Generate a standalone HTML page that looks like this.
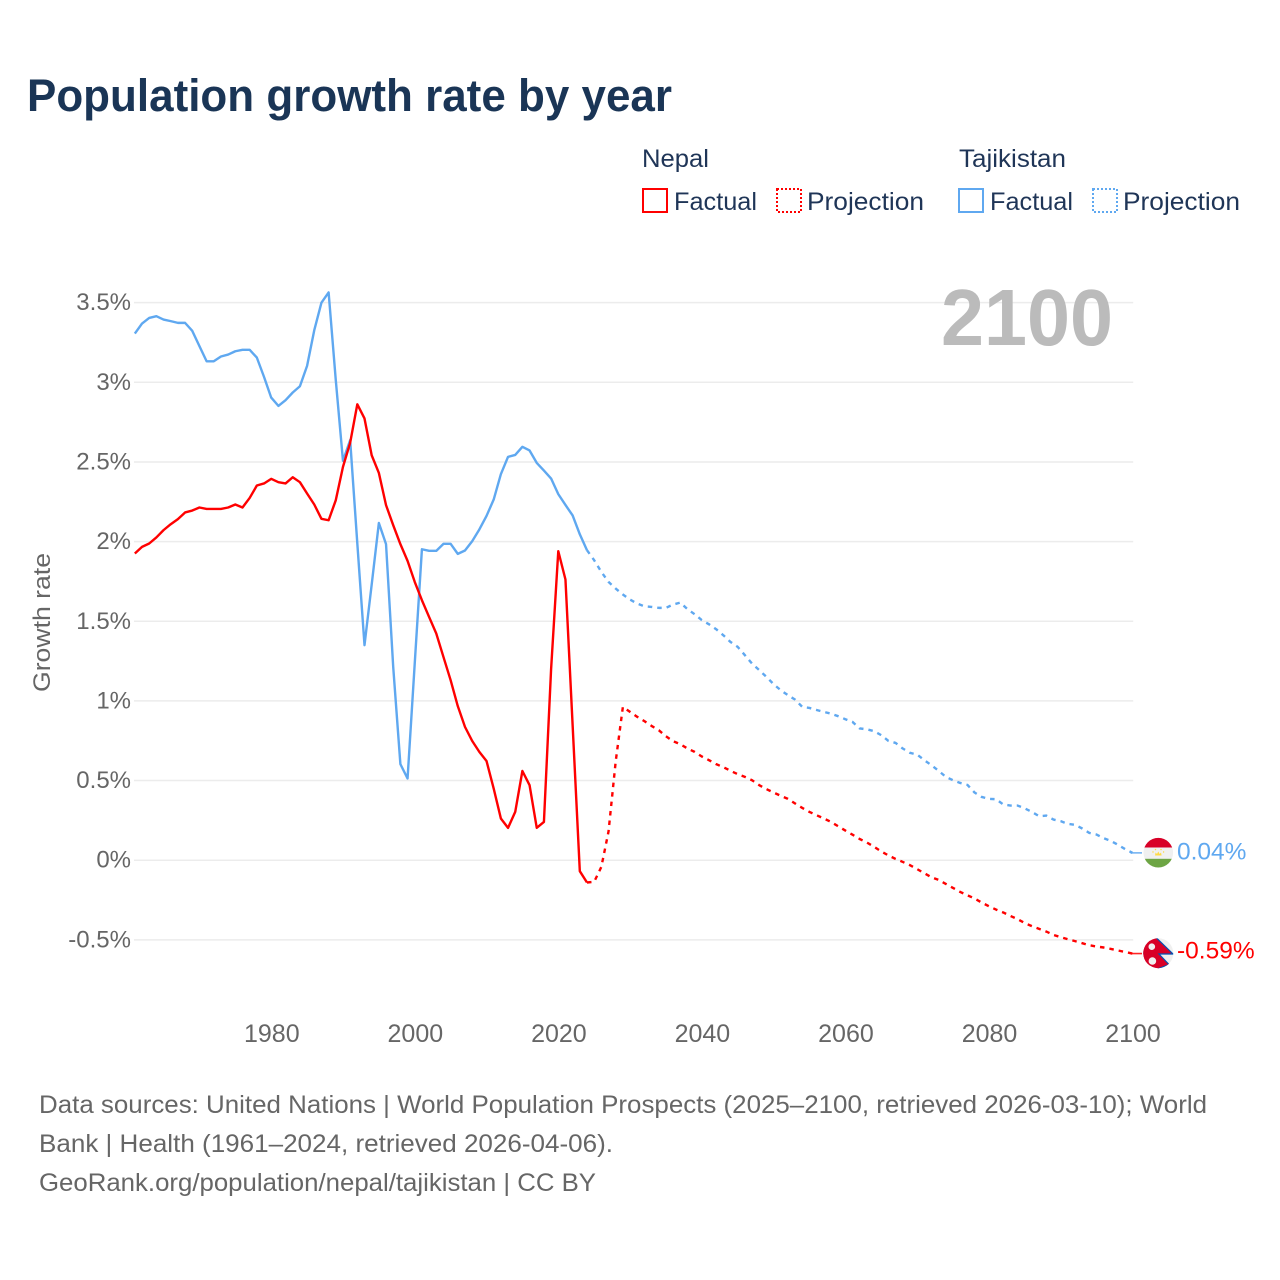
<!DOCTYPE html>
<html lang="en">
<head>
<meta charset="utf-8">
<title>Population growth rate by year</title>
<style>
html,body{margin:0;padding:0;background:#fff;}
svg{display:block;font-family:"Liberation Sans",sans-serif;}
</style>
</head>
<body>
<svg id="chart" xmlns="http://www.w3.org/2000/svg" width="1280" height="1280" viewBox="0 0 1280 1280">
  <rect x="0" y="0" width="1280" height="1280" fill="#ffffff"/>
  <text x="27" y="111" font-size="45" font-weight="700" fill="#1a3556" textLength="645" lengthAdjust="spacingAndGlyphs">Population growth rate by year</text>

  <g font-size="25" fill="#1f3557">
    <text x="642" y="167" textLength="67" lengthAdjust="spacingAndGlyphs">Nepal</text>
    <text x="959" y="167" textLength="107" lengthAdjust="spacingAndGlyphs">Tajikistan</text>
    <rect x="643" y="189" width="24" height="23" fill="none" stroke="#ff0000" stroke-width="2"/>
    <text x="674" y="210" textLength="83" lengthAdjust="spacingAndGlyphs">Factual</text>
    <rect x="777" y="189" width="24" height="23" fill="none" stroke="#ff0000" stroke-width="2" stroke-dasharray="2 2"/>
    <text x="807" y="210" textLength="117" lengthAdjust="spacingAndGlyphs">Projection</text>
    <rect x="959" y="189" width="24" height="23" fill="none" stroke="#5fa8f0" stroke-width="2"/>
    <text x="990" y="210" textLength="83" lengthAdjust="spacingAndGlyphs">Factual</text>
    <rect x="1093" y="189" width="24" height="23" fill="none" stroke="#5fa8f0" stroke-width="2" stroke-dasharray="2 2"/>
    <text x="1123" y="210" textLength="117" lengthAdjust="spacingAndGlyphs">Projection</text>
  </g>

  <g id="grid"></g>
  <g id="yticks"></g>
  <g id="xticks"></g>
  <text transform="translate(50,692) rotate(-90)" font-size="24" fill="#666666" textLength="139" lengthAdjust="spacingAndGlyphs">Growth rate</text>
  <text x="941" y="345" font-size="80" font-weight="700" fill="#bbbbbb" textLength="172" lengthAdjust="spacingAndGlyphs">2100</text>

  <g id="series"></g>

  <defs>
    <clipPath id="flag-clip-tj"><circle cx="1158.3" cy="852.7" r="14.8"/></clipPath>
    <clipPath id="flag-clip-np"><circle cx="1158.3" cy="953.2" r="15"/></clipPath>
  </defs>
  <g clip-path="url(#flag-clip-tj)">
    <rect x="1143" y="837" width="31" height="32" fill="#f0f0f0"/>
    <rect x="1143" y="837" width="31" height="10.5" fill="#d80027"/>
    <rect x="1143" y="858.8" width="31" height="10.5" fill="#6da544"/>
    <path d="M1155 855.5 L1155.6 852.5 L1157 854 L1158.3 851.5 L1159.6 854 L1161 852.5 L1161.6 855.5 Z" fill="#ffda44"/>
    <circle cx="1153" cy="852" r="0.7" fill="#ffda44"/>
    <circle cx="1163.6" cy="852" r="0.7" fill="#ffda44"/>
    <circle cx="1155.5" cy="849.6" r="0.7" fill="#ffda44"/>
    <circle cx="1161" cy="849.6" r="0.7" fill="#ffda44"/>
  </g>
  <g clip-path="url(#flag-clip-np)">
    <rect x="1143" y="938" width="31" height="32" fill="#f0f0f0"/>
    <path d="M1143 936 L1155 936.5 L1173 954 L1159 954 L1169 964.5 L1155 970 L1143 970 Z" fill="#d80027" stroke="#0052b4" stroke-width="1.2"/>
    <path d="M1143 936 L1143 970 L1150 970 L1150 936 Z" fill="#d80027"/>
    <circle cx="1151.8" cy="946.7" r="3.3" fill="#f0f0f0"/>
    <circle cx="1152.4" cy="961" r="3.8" fill="#f0f0f0"/>
  </g>

  <g id="endlabels"></g>

  <g font-size="25" fill="#666666">
    <text x="39" y="1113" textLength="1168" lengthAdjust="spacingAndGlyphs">Data sources: United Nations | World Population Prospects (2025–2100, retrieved 2026-03-10); World</text>
    <text x="39" y="1152" textLength="574" lengthAdjust="spacingAndGlyphs">Bank | Health (1961–2024, retrieved 2026-04-06).</text>
    <text x="39" y="1191" textLength="557" lengthAdjust="spacingAndGlyphs">GeoRank.org/population/nepal/tajikistan | CC BY</text>
  </g>
</svg>

<script>
const yTickValues = [3.5, 3, 2.5, 2, 1.5, 1, 0.5, 0, -0.5];
const xTickYears = [1980, 2000, 2020, 2040, 2060, 2080, 2100];
const factualStartYear = 1961;
const projectionStartYear = 2024;
const endValueLabels = ["0.04%", "-0.59%"];

const nepalFactual = [1.925,1.967,1.988,2.026,2.072,2.109,2.141,2.183,2.195,2.214,2.205,2.205,2.205,2.214,2.233,2.214,2.274,2.352,2.365,2.394,2.373,2.365,2.404,2.373,2.302,2.233,2.143,2.134,2.26,2.469,2.62,2.862,2.773,2.542,2.431,2.229,2.103,1.984,1.879,1.747,1.632,1.527,1.423,1.276,1.13,0.967,0.837,0.749,0.68,0.623,0.45,0.262,0.203,0.303,0.56,0.471,0.203,0.24,1.2,1.94,1.762,0.847,-0.069,-0.14];
const nepalProjection = [-0.14,-0.136,-0.042,0.18,0.62,0.962,0.931,0.9,0.873,0.843,0.816,0.778,0.747,0.728,0.701,0.68,0.651,0.628,0.603,0.584,0.561,0.54,0.523,0.502,0.471,0.446,0.425,0.404,0.385,0.356,0.328,0.303,0.282,0.262,0.24,0.213,0.186,0.16,0.133,0.111,0.084,0.055,0.03,0.008,-0.011,-0.031,-0.056,-0.082,-0.107,-0.124,-0.149,-0.174,-0.199,-0.22,-0.24,-0.266,-0.289,-0.31,-0.328,-0.35,-0.37,-0.395,-0.414,-0.431,-0.448,-0.469,-0.483,-0.496,-0.508,-0.521,-0.534,-0.542,-0.548,-0.557,-0.567,-0.576,-0.586];
const tajikistanFactual = [3.306,3.369,3.404,3.415,3.394,3.384,3.373,3.373,3.323,3.227,3.132,3.132,3.162,3.174,3.195,3.204,3.204,3.155,3.034,2.904,2.852,2.888,2.936,2.975,3.103,3.327,3.5,3.564,3.013,2.507,2.637,1.988,1.35,1.73,2.117,1.984,1.213,0.603,0.513,1.236,1.952,1.942,1.942,1.986,1.986,1.923,1.944,2.002,2.076,2.161,2.264,2.423,2.532,2.544,2.595,2.572,2.494,2.446,2.396,2.298,2.23,2.164,2.046,1.946];
const tajikistanProjection = [1.946,1.883,1.81,1.747,1.705,1.668,1.636,1.611,1.594,1.59,1.584,1.584,1.605,1.617,1.576,1.544,1.507,1.481,1.45,1.412,1.37,1.339,1.287,1.234,1.193,1.151,1.105,1.067,1.036,1.008,0.962,0.956,0.943,0.931,0.92,0.904,0.885,0.868,0.827,0.822,0.81,0.785,0.749,0.736,0.701,0.674,0.663,0.628,0.596,0.561,0.523,0.502,0.485,0.473,0.425,0.397,0.385,0.383,0.35,0.343,0.343,0.325,0.303,0.276,0.28,0.255,0.245,0.228,0.222,0.199,0.171,0.161,0.138,0.121,0.096,0.069,0.046];

const NS = "http://www.w3.org/2000/svg";
const RED = "#ff0000";
const BLUE = "#5fa8f0";
function x(year) { return 271.2 + (year - 1980) * 7.177; }
function y(value) { return 860.2 - 159.3 * value; }

function make(tag, attrs, parent, text) {
  const el = document.createElementNS(NS, tag);
  for (const k in attrs) el.setAttribute(k, attrs[k]);
  if (text !== undefined) el.textContent = text;
  parent.appendChild(el);
  return el;
}
function pathFor(values, startYear) {
  return values.map(function (v, i) {
    return (i ? "L" : "M") + x(startYear + i).toFixed(2) + " " + y(v).toFixed(2);
  }).join(" ");
}

const grid = document.getElementById("grid");
const yticks = document.getElementById("yticks");
const xticks = document.getElementById("xticks");
const series = document.getElementById("series");
const endlabels = document.getElementById("endlabels");

yTickValues.forEach(function (v) {
  const line = make("line", { x1: 134, x2: 1133.2, y1: y(v), y2: y(v), stroke: "#ececec", "stroke-width": 1.5 }, grid);
  
  
  const label = make("text", { x: 131, y: y(v) + 7.5, "text-anchor": "end", "font-size": 24, fill: "#666666" }, yticks, v + "%");
  
  
});

xTickYears.forEach(function (year) {
  const label = make("text", { x: x(year) + 0.6, y: 1042, "text-anchor": "middle", "font-size": 25, fill: "#666666" }, xticks, String(year));
  
  
});

function drawSeries(factual, projection, color, prefix, endLabel, labelOffset) {
  const solid = make("path", { d: pathFor(factual, factualStartYear), fill: "none", stroke: color, "stroke-width": 2.4, "stroke-linejoin": "round" }, series);
  
  
  const dashed = make("path", { d: pathFor(projection, projectionStartYear), fill: "none", stroke: color, "stroke-width": 2.4, "stroke-dasharray": "4.5 5", "stroke-linejoin": "round" }, series);
  
  
  const last = projection[projection.length - 1];
  const connector = make("line", { x1: x(2100) - 2, x2: 1142, y1: y(last), y2: y(last), stroke: color, "stroke-width": 1.6, opacity: 0.85 }, series);
  
  
  const label = make("text", { x: 1177, y: y(last) + labelOffset, "font-size": 24.5, fill: color }, endlabels, endLabel);
  
  
}
drawSeries(tajikistanFactual, tajikistanProjection, BLUE, 'tajikistan', endValueLabels[0], 6.5);
drawSeries(nepalFactual, nepalProjection, RED, 'nepal', endValueLabels[1], 5);
</script>
</body>
</html>
